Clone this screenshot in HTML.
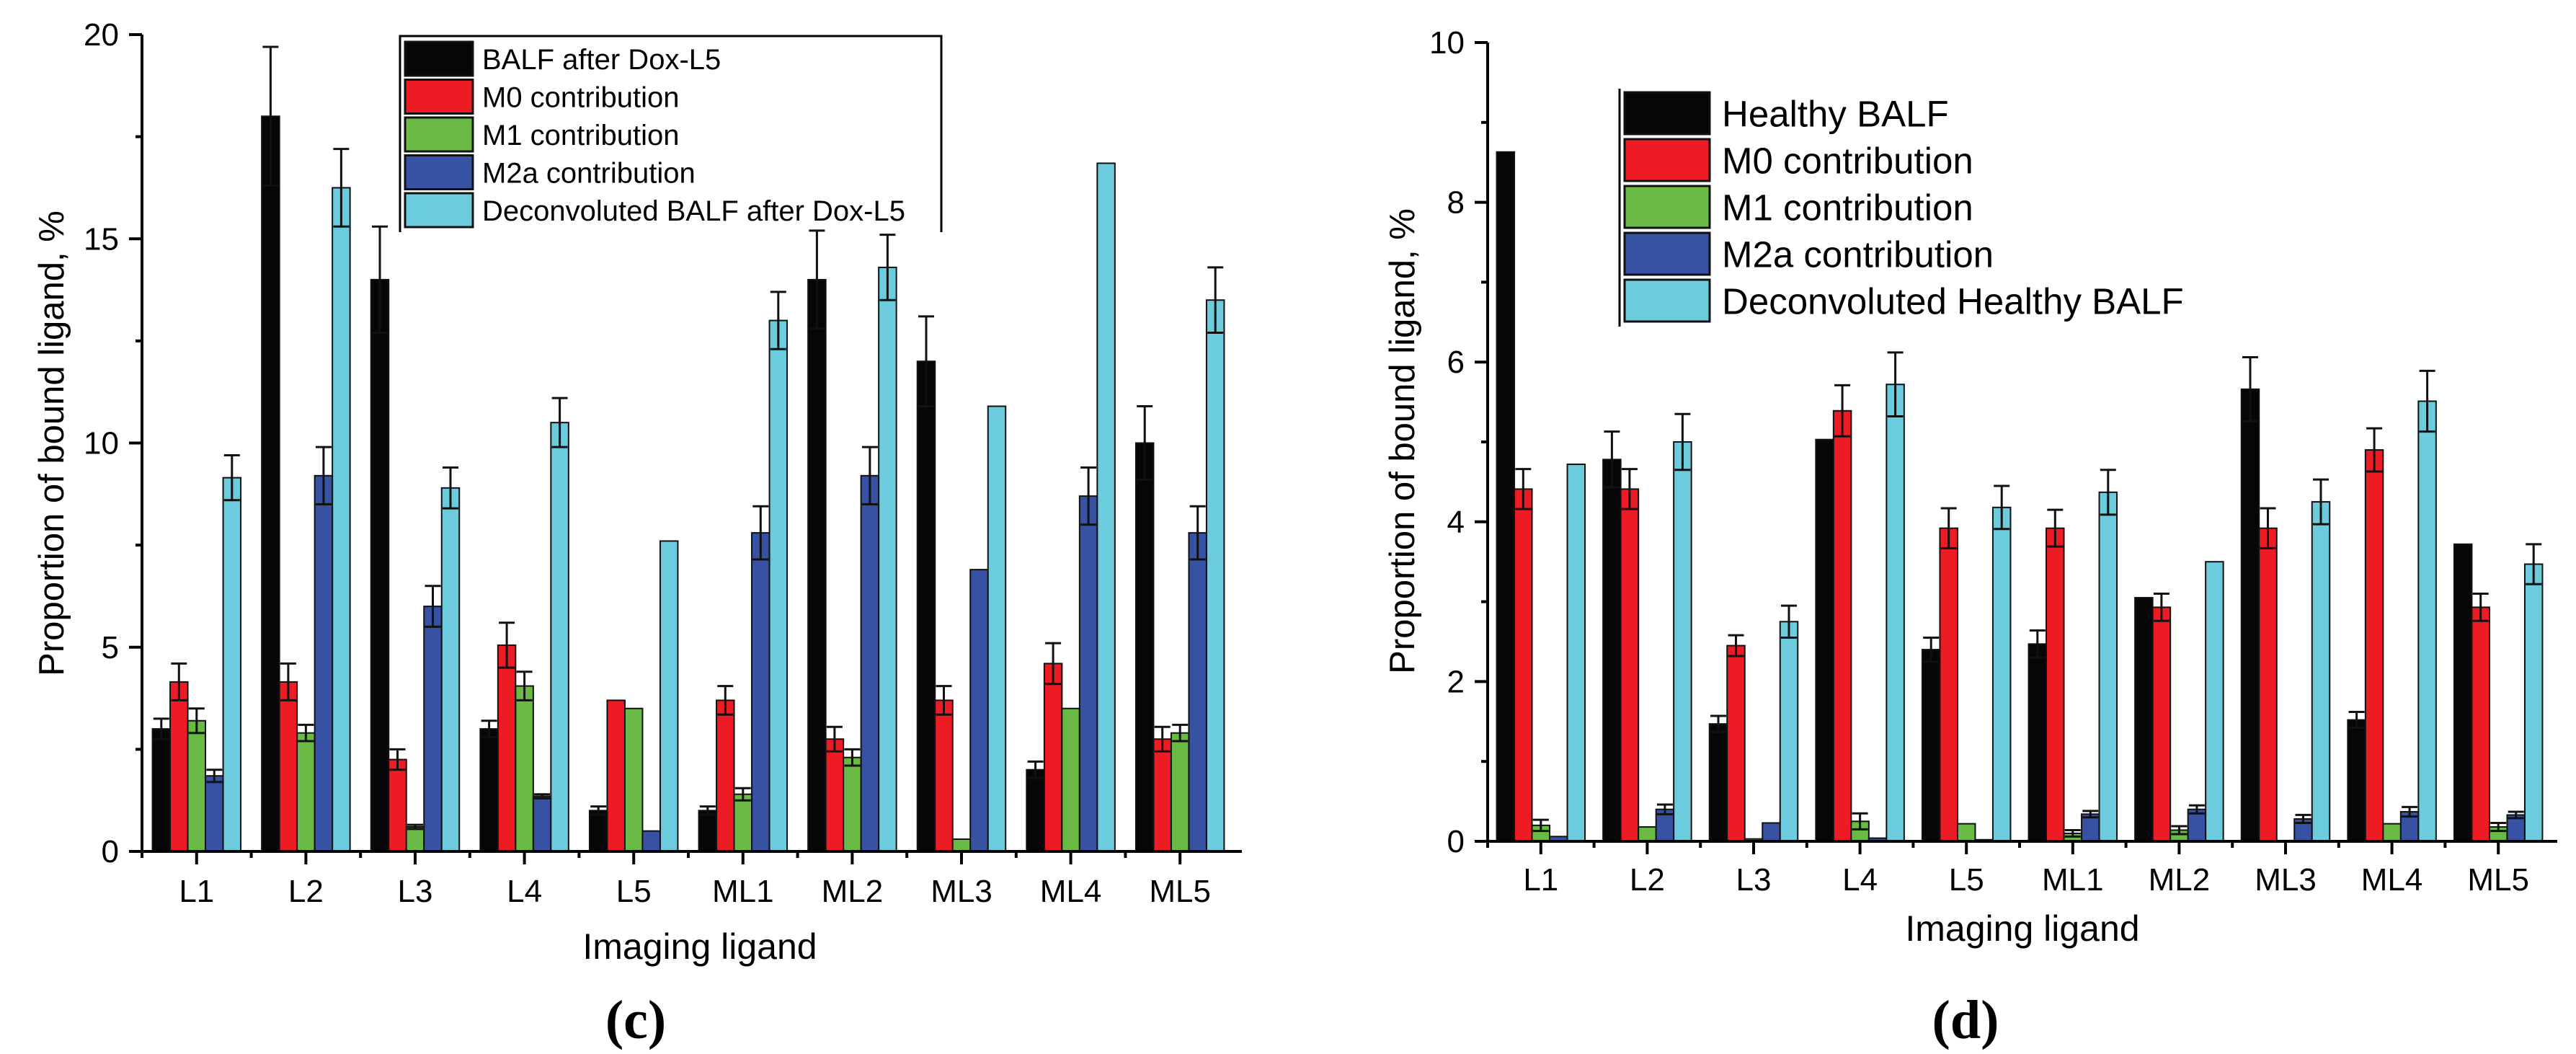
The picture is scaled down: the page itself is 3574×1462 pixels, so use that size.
<!DOCTYPE html>
<html><head><meta charset="utf-8"><style>
html,body{margin:0;padding:0;background:#fff;}
svg{display:block;font-family:"Liberation Sans",Arial,sans-serif;}
</style></head><body>
<svg id="root" width="3574" height="1462" viewBox="0 0 3574 1462" xmlns="http://www.w3.org/2000/svg">
<rect x="0" y="0" width="3574" height="1462" fill="#fff"/>
<g id="chartC"></g>
<g id="chartD"></g>
</svg>
<script>
const categories = ["L1","L2","L3","L4","L5","ML1","ML2","ML3","ML4","ML5"];
const seriesColors = ["#060608","#ed1c24","#6aba45","#3752a3","#6ccbdc"];

const cSeriesNames = ["BALF after Dox-L5","M0 contribution","M1 contribution","M2a contribution","Deconvoluted BALF after Dox-L5"];
const cBalf  = [3.0, 18.0, 14.0, 3.0, 1.0, 1.0, 14.0, 12.0, 2.0, 10.0];
const cM0    = [4.15, 4.15, 2.25, 5.05, 3.7, 3.7, 2.75, 3.7, 4.6, 2.75];
const cM1    = [3.2, 2.9, 0.6, 4.05, 3.5, 1.4, 2.3, 0.3, 3.5, 2.9];
const cM2a   = [1.85, 9.2, 6.0, 1.35, 0.5, 7.8, 9.2, 6.9, 8.7, 7.8];
const cDecon = [9.15, 16.25, 8.9, 10.5, 7.6, 13.0, 14.3, 10.9, 16.85, 13.5];
const cErrBalf  = [0.25, 1.7, 1.3, 0.2, 0.1, 0.1, 1.2, 1.1, 0.2, 0.9];
const cErrM0    = [0.45, 0.45, 0.25, 0.55, 0, 0.35, 0.3, 0.35, 0.5, 0.3];
const cErrM1    = [0.3, 0.2, 0.05, 0.35, 0, 0.15, 0.2, 0, 0, 0.2];
const cErrM2a   = [0.15, 0.7, 0.5, 0.05, 0, 0.65, 0.7, 0, 0.7, 0.65];
const cErrDecon = [0.55, 0.95, 0.5, 0.6, 0, 0.7, 0.8, 0, 0, 0.8];
const cTicks = [0, 5, 10, 15, 20];

const dSeriesNames = ["Healthy BALF","M0 contribution","M1 contribution","M2a contribution","Deconvoluted Healthy BALF"];
const dBalf  = [8.63, 4.78, 1.47, 5.03, 2.4, 2.47, 3.05, 5.66, 1.52, 3.72];
const dM0    = [4.41, 4.41, 2.45, 5.39, 3.92, 3.92, 2.93, 3.92, 4.9, 2.93];
const dM1    = [0.2, 0.18, 0.03, 0.25, 0.22, 0.1, 0.14, 0.01, 0.22, 0.18];
const dM2a   = [0.06, 0.4, 0.23, 0.04, 0.02, 0.34, 0.4, 0.28, 0.37, 0.33];
const dDecon = [4.72, 5.0, 2.75, 5.72, 4.18, 4.37, 3.5, 4.25, 5.51, 3.47];
const dErrBalf  = [0, 0.35, 0.1, 0, 0.15, 0.17, 0, 0.4, 0.1, 0];
const dErrM0    = [0.25, 0.25, 0.13, 0.32, 0.25, 0.23, 0.17, 0.25, 0.27, 0.17];
const dErrM1    = [0.07, 0, 0, 0.1, 0, 0.04, 0.05, 0, 0, 0.05];
const dErrM2a   = [0, 0.06, 0, 0, 0, 0.04, 0.05, 0.05, 0.06, 0.04];
const dErrDecon = [0, 0.35, 0.2, 0.4, 0.27, 0.28, 0, 0.28, 0.38, 0.25];
const dTicks = [0, 2, 4, 6, 8, 10];

const NS = "http://www.w3.org/2000/svg";
function mk(parent, tag, attrs, text){
  const el = document.createElementNS(NS, tag);
  for (const k in attrs) el.setAttribute(k, attrs[k]);
  if (text !== undefined) el.textContent = text;
  parent.appendChild(el);
  return el;
}

function drawChart(g, cfg){
  const x0 = cfg.x0, step = cfg.step, y0 = cfg.y0, yTop = cfg.yTop, yMax = cfg.yMax;
  const yS = v => y0 - (v / yMax) * (y0 - yTop);
  const xC = i => x0 + step * (i + 0.5);
  const bw = 24.5;
  // bars
  cfg.series.forEach((vals, s) => {
    vals.forEach((v, i) => {
      const bx = xC(i) - 2.5 * bw + s * bw;
      const r = mk(g, "rect", {x: bx, y: yS(v), width: bw, height: y0 - yS(v), fill: seriesColors[s], stroke: "#111", "stroke-width": 2});
      
      
      const e = cfg.errs[s][i];
      if (e > 0) {
        const cx = bx + bw / 2;
        const eb = mk(g, "path", {d: "M" + cx + "," + yS(v - e) + "V" + yS(v + e) + "M" + (cx - 11) + "," + yS(v + e) + "H" + (cx + 11) + "M" + (cx - 11) + "," + yS(v - e) + "H" + (cx + 11), stroke: "#111", "stroke-width": 3, fill: "none"});
        
        
      }
    });
  });
  // axes
  const ax = mk(g, "path", {d: "M" + x0 + "," + yTop + "V" + (y0 + 2) + "M" + (x0 - 2) + "," + y0 + "H" + cfg.xEnd, stroke: "#000", "stroke-width": 4, fill: "none"});
  
  
  // y ticks
  cfg.ticks.forEach((t, k) => {
    const y = yS(t);
    const tk = mk(g, "line", {x1: x0 - 18, x2: x0, y1: y, y2: y, stroke: "#000", "stroke-width": 4});
    
    
    const lb = mk(g, "text", {x: x0 - 32, y: y + 15, "text-anchor": "end", "font-size": 44, fill: "#000"}, String(t));
    
    
    if (k < cfg.ticks.length - 1) {
      const mid = yS((t + cfg.ticks[k + 1]) / 2);
      const mt = mk(g, "line", {x1: x0 - 9, x2: x0, y1: mid, y2: mid, stroke: "#000", "stroke-width": 4});
      
      
    }
  });
  // x ticks
  categories.forEach((c, i) => {
    const x = xC(i);
    const tk = mk(g, "line", {x1: x, x2: x, y1: y0, y2: y0 + 18, stroke: "#000", "stroke-width": 4});
    
    
    const lb = mk(g, "text", {x: x, y: y0 + cfg.labelDy, "text-anchor": "middle", "font-size": 44, fill: "#000"}, c);
    
    
    const bx = x0 + step * i;
    const mt = mk(g, "line", {x1: bx, x2: bx, y1: y0, y2: y0 + 9, stroke: "#000", "stroke-width": 4});
    
    
  });
  // titles
  const yt = mk(g, "text", {x: 0, y: 0, transform: "translate(" + cfg.yTitleX + "," + cfg.yTitleY + ") rotate(-90)", "text-anchor": "middle", "dominant-baseline": "central", "font-size": 49, fill: "#000"}, "Proportion of bound ligand, %");
  
  
  const xt = mk(g, "text", {x: cfg.xTitleX, y: cfg.xTitleY, "text-anchor": "middle", "font-size": 50, fill: "#000"}, "Imaging ligand");
  
  
  const pl = mk(g, "text", {x: cfg.panelX, y: 1440, "text-anchor": "middle", "font-size": 76, "font-weight": "bold", "font-family": "Liberation Serif, serif", fill: "#000"}, cfg.panel);
  
  
  // legend
  const lg = mk(g, "g", {});
  
  
  const L = cfg.legend;
  const fr = mk(lg, "path", {d: L.frame, stroke: "#000", "stroke-width": 3, fill: "none"});
  
  
  cfg.names.forEach((n, s) => {
    const y = L.y + s * L.pitch;
    const sw = mk(lg, "rect", {x: L.x, y: y, width: L.w, height: L.h, fill: seriesColors[s], stroke: "#111", "stroke-width": 3});
    
    
    const tx = mk(lg, "text", {x: L.tx, y: y + L.h / 2 + L.fs * 0.36, "font-size": L.fs, fill: "#000"}, n);
    
    
  });
}

drawChart(document.getElementById("chartC"), {
  id: "c", x0: 197, step: 151.6, y0: 1181, yTop: 48, yMax: 20, xEnd: 1723,
  series: [cBalf, cM0, cM1, cM2a, cDecon],
  errs: [cErrBalf, cErrM0, cErrM1, cErrM2a, cErrDecon],
  ticks: cTicks, names: cSeriesNames, labelDy: 70,
  yTitleX: 72, yTitleY: 615, xTitleX: 971, xTitleY: 1330, panelX: 882, panel: "(c)",
  legend: {frame: "M555,322V50H1306V322", x: 562, y: 58, pitch: 52.5, w: 94, h: 47, tx: 669, fs: 40}
});
drawChart(document.getElementById("chartD"), {
  id: "d", x0: 2064, step: 147.6, y0: 1167, yTop: 59, yMax: 10, xEnd: 3548,
  series: [dBalf, dM0, dM1, dM2a, dDecon],
  errs: [dErrBalf, dErrM0, dErrM1, dErrM2a, dErrDecon],
  ticks: dTicks, names: dSeriesNames, labelDy: 68,
  yTitleX: 1946, yTitleY: 612, xTitleX: 2806, xTitleY: 1305, panelX: 2727, panel: "(d)",
  legend: {frame: "M2247,123V453", x: 2254, y: 128, pitch: 65, w: 118, h: 58, tx: 2389, fs: 51}
});
</script>
</body></html>
